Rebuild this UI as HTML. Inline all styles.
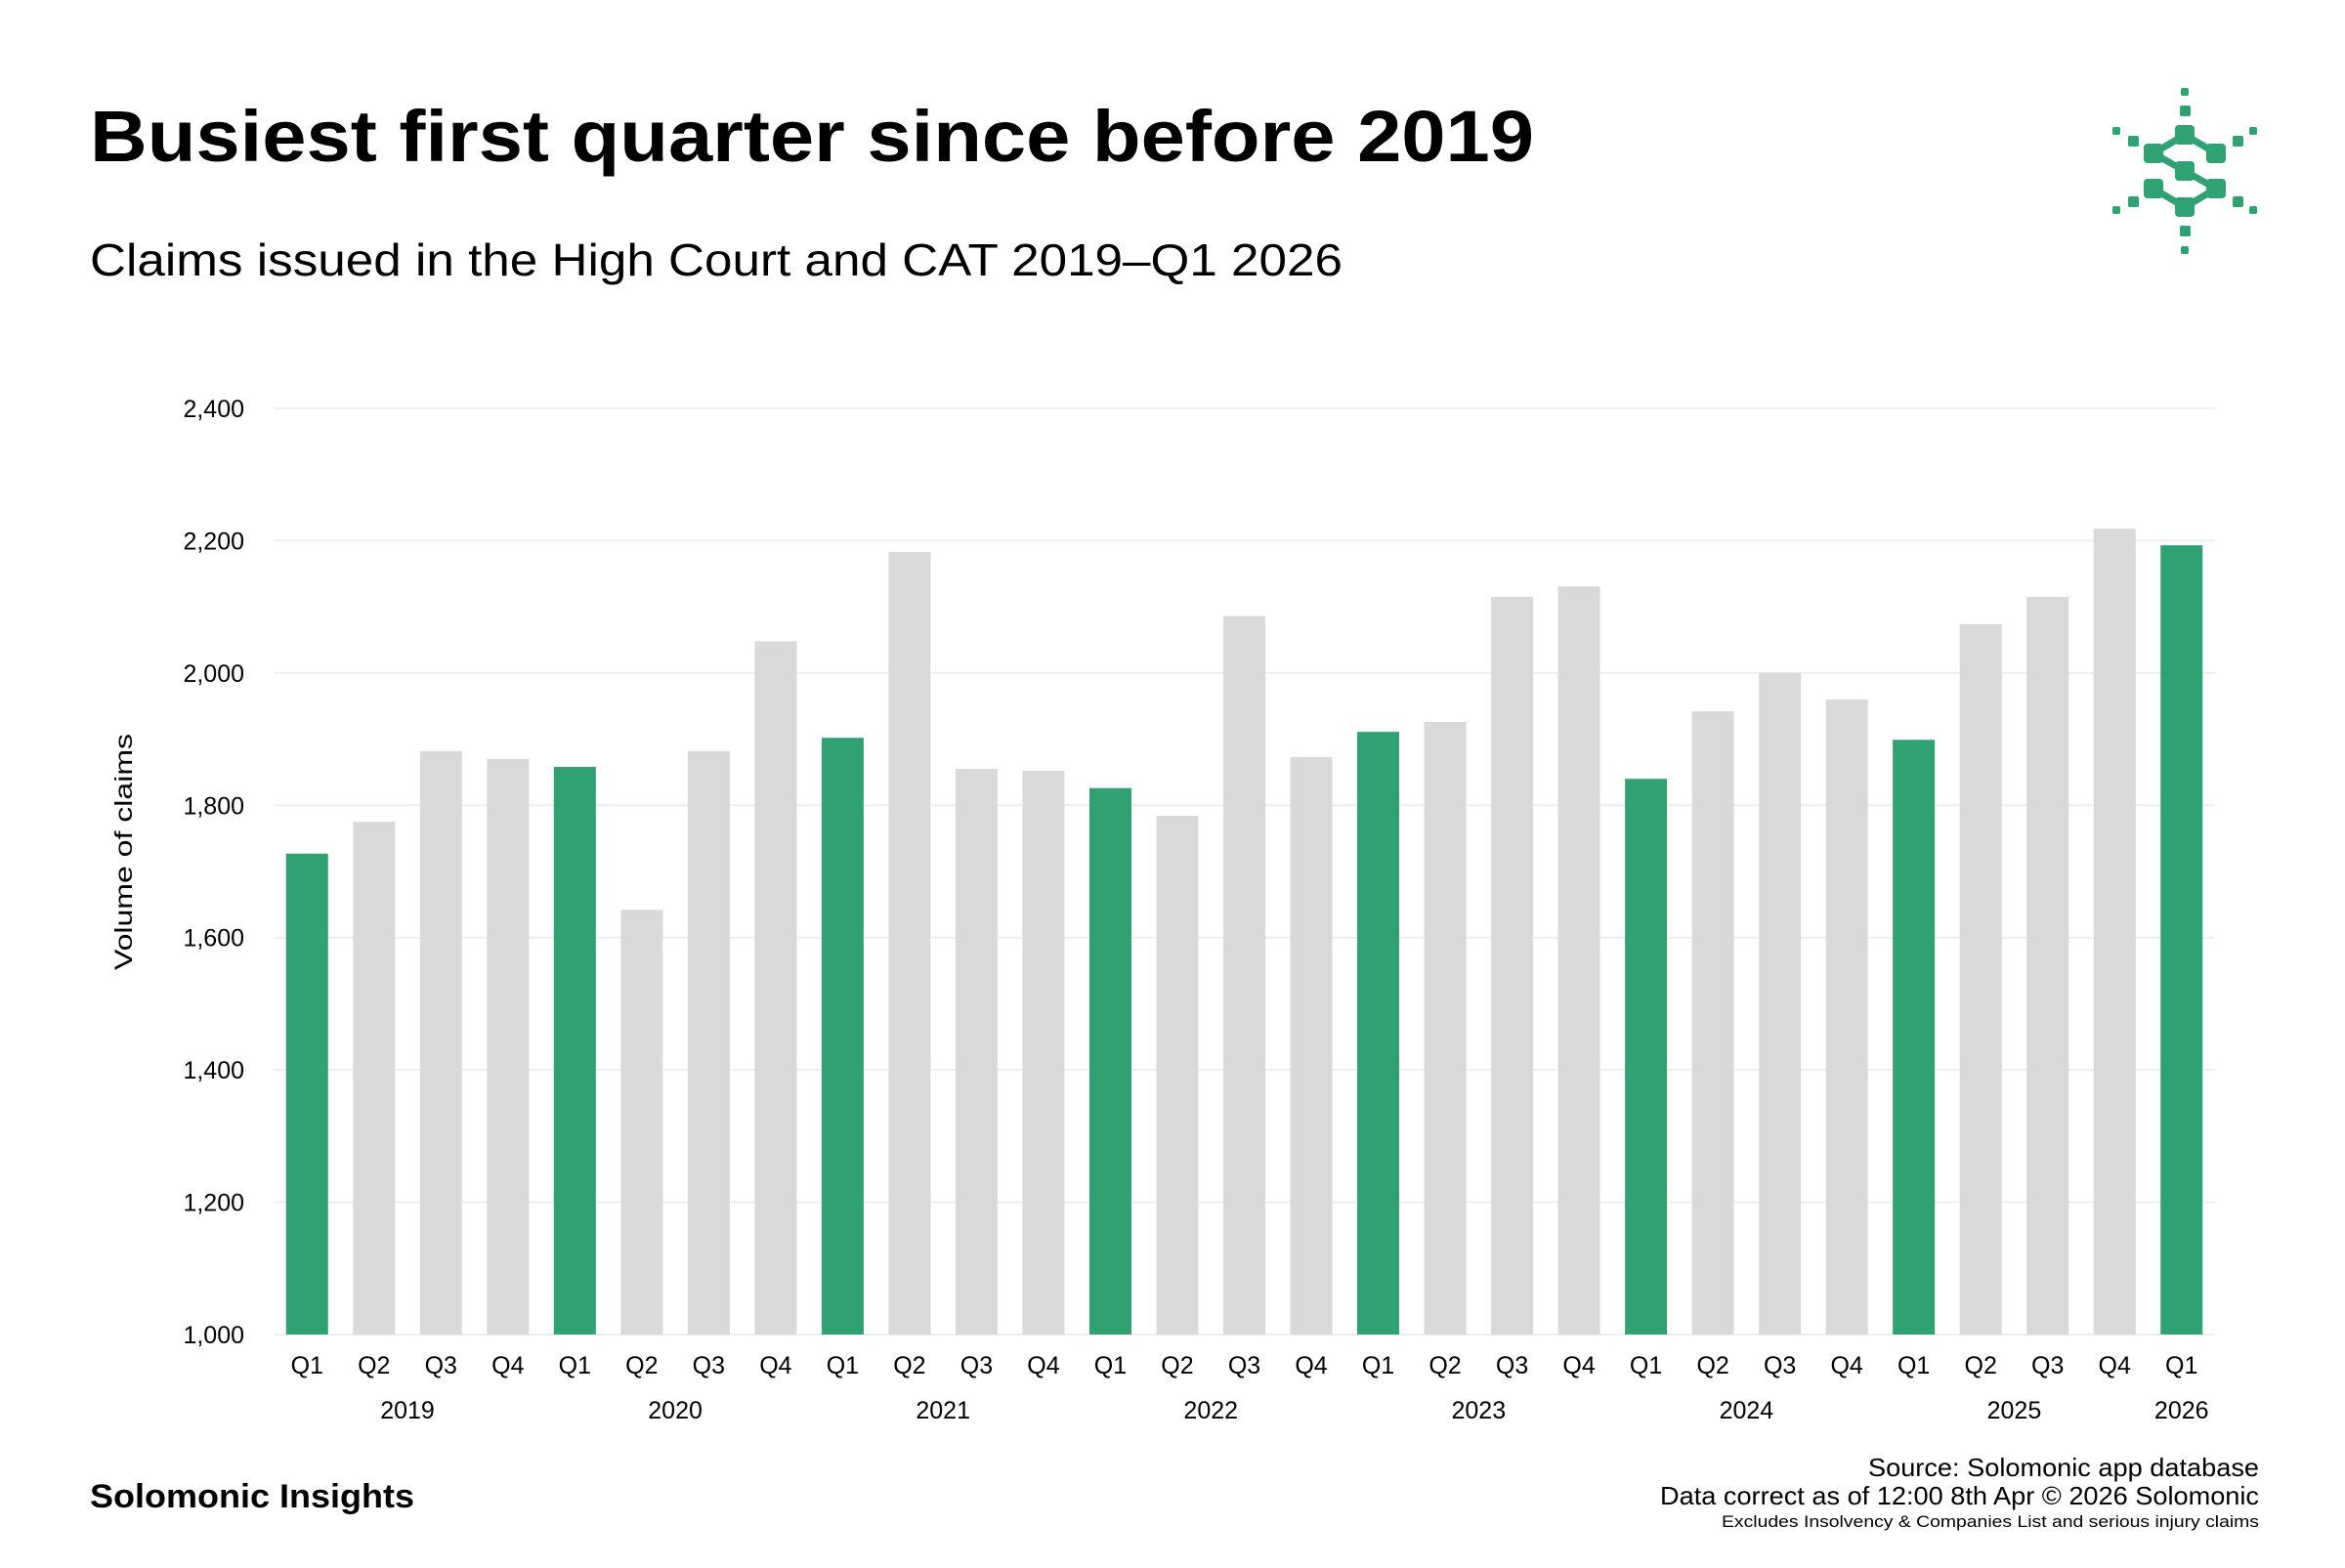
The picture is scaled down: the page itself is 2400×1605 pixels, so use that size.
<!DOCTYPE html>
<html><head><meta charset="utf-8"><style>
body{margin:0;background:#fff;width:2400px;height:1600px;overflow:hidden;font-family:"Liberation Sans",sans-serif;}
svg text{font-family:"Liberation Sans",sans-serif;}
</style></head><body>
<svg id="chart" width="2400" height="1600" viewBox="0 0 2400 1600">
<text x="92" y="165" font-size="74" font-weight="bold" fill="#000" textLength="1478" lengthAdjust="spacingAndGlyphs">Busiest first quarter since before 2019</text>
<text x="92" y="282" font-size="46" fill="#000" textLength="1282" lengthAdjust="spacingAndGlyphs">Claims issued in the High Court and CAT 2019–Q1 2026</text>
<g id="logo" fill="#2fa172">
<g stroke="#2fa172" stroke-width="7" fill="none">
<polyline points="2204,157 2236,138 2268,157"/>
<polyline points="2204,157 2236,175 2268,193"/>
<polyline points="2204,193 2236,212 2268,193"/>
</g>
<rect x="2226" y="128" width="20" height="20" rx="4"/>
<rect x="2194" y="147" width="20" height="20" rx="4"/>
<rect x="2258" y="147" width="20" height="20" rx="4"/>
<rect x="2226" y="165" width="20" height="20" rx="4"/>
<rect x="2194" y="183" width="20" height="20" rx="4"/>
<rect x="2258" y="183" width="20" height="20" rx="4"/>
<rect x="2226" y="202" width="20" height="20" rx="4"/>
<rect x="2231" y="108" width="11" height="11" rx="2"/>
<rect x="2232" y="90" width="8" height="8" rx="2"/>
<rect x="2231" y="231" width="11" height="11" rx="2"/>
<rect x="2232" y="252" width="8" height="8" rx="2"/>
<rect x="2178" y="139" width="11" height="11" rx="2"/>
<rect x="2162" y="130" width="8" height="8" rx="2"/>
<rect x="2285" y="139" width="11" height="11" rx="2"/>
<rect x="2302" y="130" width="8" height="8" rx="2"/>
<rect x="2178" y="201" width="11" height="11" rx="2"/>
<rect x="2162" y="211" width="8" height="8" rx="2"/>
<rect x="2285" y="201" width="11" height="11" rx="2"/>
<rect x="2302" y="211" width="8" height="8" rx="2"/>
</g>
<g id="grid"></g><g id="bars"></g><g id="xlabels"></g>
<text transform="translate(135,872) rotate(-90)" text-anchor="middle" font-size="25" fill="#000" textLength="242" lengthAdjust="spacingAndGlyphs">Volume of claims</text>
<text x="92" y="1543" font-size="34" font-weight="bold" fill="#000" textLength="332" lengthAdjust="spacingAndGlyphs">Solomonic Insights</text>
<text x="2312" y="1511" text-anchor="end" font-size="26" fill="#000" textLength="400" lengthAdjust="spacingAndGlyphs">Source: Solomonic app database</text>
<text x="2312" y="1540" text-anchor="end" font-size="26" fill="#000" textLength="613" lengthAdjust="spacingAndGlyphs">Data correct as of 12:00 8th Apr © 2026 Solomonic</text>
<text x="2312" y="1563" text-anchor="end" font-size="17" fill="#000" textLength="550" lengthAdjust="spacingAndGlyphs">Excludes Insolvency &amp; Companies List and serious injury claims</text>
</svg>
<script>
const quarters=["Q1","Q2","Q3","Q4","Q1","Q2","Q3","Q4","Q1","Q2","Q3","Q4","Q1","Q2","Q3","Q4","Q1","Q2","Q3","Q4","Q1","Q2","Q3","Q4","Q1","Q2","Q3","Q4","Q1"];
const years=["2019","2020","2021","2022","2023","2024","2025","2026"];
const values=[1727,1775,1882,1870,1858,1642,1882,2048,1902,2183,1855,1852,1826,1784,2086,1873,1911,1926,2115,2131,1840,1942,2000,1960,1899,2074,2115,2218,2193];
const yTicks=[1000,1200,1400,1600,1800,2000,2200,2400];
const yTickLabels=["1,000","1,200","1,400","1,600","1,800","2,000","2,200","2,400"];
const NS="http://www.w3.org/2000/svg";
const x0=280,x1=2267,yBase=1366,yTop=418,vMin=1000,vMax=2400;
const band=(x1-x0)/values.length,bw=43;
function y(v){return yBase-(v-vMin)/(vMax-vMin)*(yBase-yTop);}
function x(i){return x0+i*band+(band-bw)/2;}
function mk(t,a,p){const e=document.createElementNS(NS,t);for(const k in a)e.setAttribute(k,a[k]);p.appendChild(e);return e;}
const grid=document.getElementById('grid');
yTicks.forEach((v,i)=>{
 const l=mk('line',{x1:x0,x2:x1,y1:y(v),y2:y(v),stroke:'#eeeeee','stroke-width':2},grid);
 
 
 const t=mk('text',{x:250,y:y(v)+9,'text-anchor':'end','font-size':25,fill:'#000'},grid);
 t.textContent=yTickLabels[i];
 
 
});
const bars=document.getElementById('bars'),xl=document.getElementById('xlabels');
values.forEach((v,i)=>{
 const r=mk('rect',{x:x(i),y:y(v),width:bw,height:yBase-y(v),fill:quarters[i]==="Q1"?'#2fa172':'#d9d9d9'},bars);
 
 
 const t=mk('text',{x:x(i)+bw/2,y:1406,'text-anchor':'middle','font-size':25,fill:'#000'},xl);
 t.textContent=quarters[i];
 
 
});
years.forEach((yr,j)=>{
 const s=j*4,e=Math.min(s+3,values.length-1);
 const t=mk('text',{x:(x(s)+x(e))/2+bw/2,y:1452,'text-anchor':'middle','font-size':25,fill:'#000'},xl);
 t.textContent=yr;
 
 
});
</script>
</body></html>
